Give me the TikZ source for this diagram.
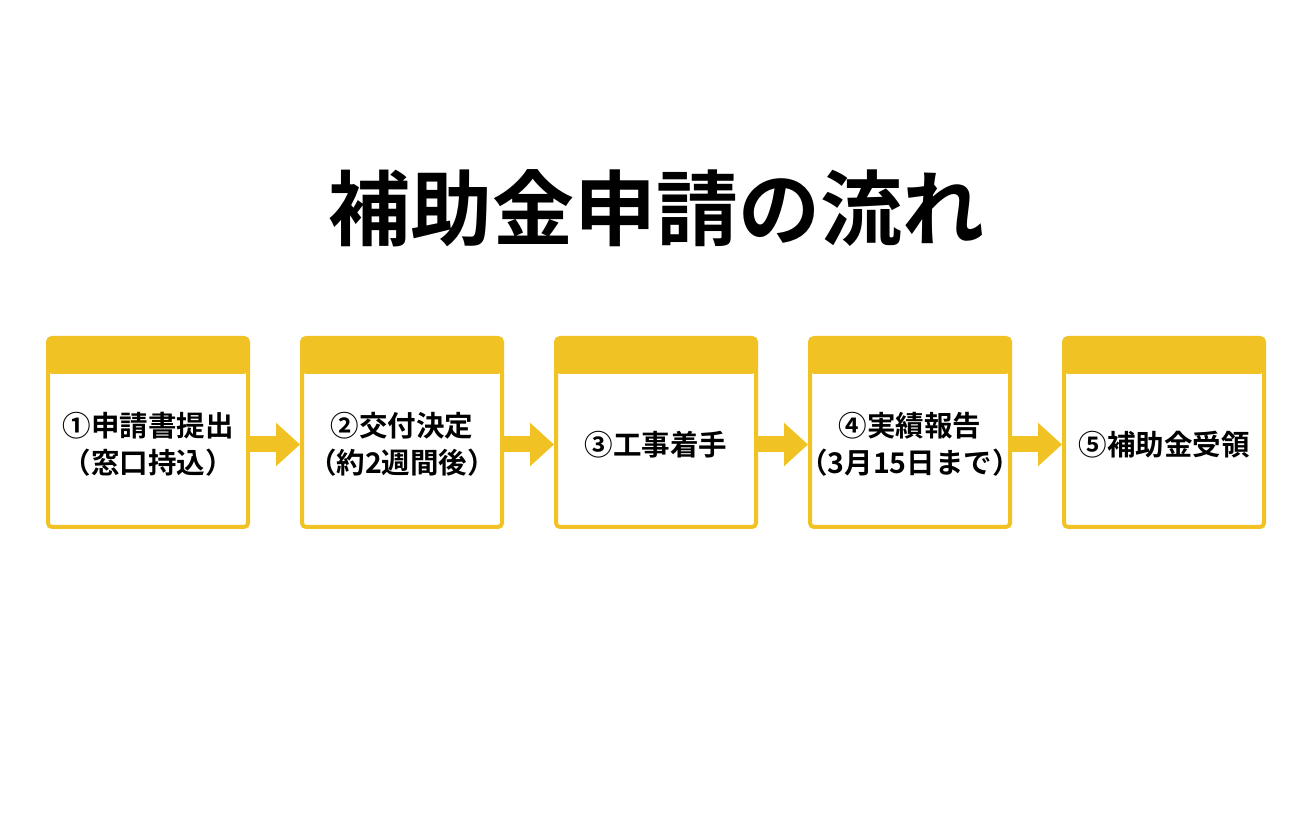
\documentclass[tikz,border=0pt]{standalone}
\usepackage{fontspec}
\setmainfont{Noto Sans CJK JP}[BoldFont={Noto Sans CJK JP Bold}]
\usetikzlibrary{positioning,arrows.meta}
\definecolor{stepyellow}{HTML}{F0C224}

\begin{document}
\begin{tikzpicture}[x=1pt,y=1pt,
                    step box/.style={rectangle,draw=stepyellow,line width=4pt,rounded corners=4pt,
                      minimum width=200pt,minimum height=189pt,inner sep=0pt,
                      path picture={\fill[stepyellow] (path picture bounding box.north west)
                        rectangle ([yshift=-36pt]path picture bounding box.north east);}},
                    step text/.style={font=\bfseries\fontsize{28.5}{37}\selectfont,align=center},
                    flow arrow/.style={stepyellow,line width=16pt,-{Triangle[length=24pt,width=42pt]}}]
  \useasboundingbox[fill=white] (0,0) rectangle (1312,816);
  \node[font=\bfseries\fontsize{82}{86}\selectfont] (title) at (656,608) {補助金申請の流れ};

  \node[step box] (s1) at (148,383.5) {};
  \node[step box,right=50pt of s1] (s2) {};
  \node[step box,right=50pt of s2] (s3) {};
  \node[step box,right=50pt of s3] (s4) {};
  \node[step box,right=50pt of s4] (s5) {};

  \node[step text] (t1) at ([yshift=-12pt]s1.center) {①申請書提出\\（窓口持込）};
  \node[step text] (t2) at ([yshift=-12pt]s2.center) {②交付決定\\（約2週間後）};
  \node[step text] (t3) at ([yshift=-12pt]s3.center) {③工事着手};
  \node[step text] (t4) at ([yshift=-12pt]s4.center) {④実績報告\\（3月15日まで）};
  \node[step text] (t5) at ([yshift=-12pt]s5.center) {⑤補助金受領};

  \foreach \a/\b in {s1/s2,s2/s3,s3/s4,s4/s5}
    \draw[flow arrow] ([yshift=-12pt]\a.east) -- ([yshift=-12pt]\b.west);
\end{tikzpicture}
\end{document}
